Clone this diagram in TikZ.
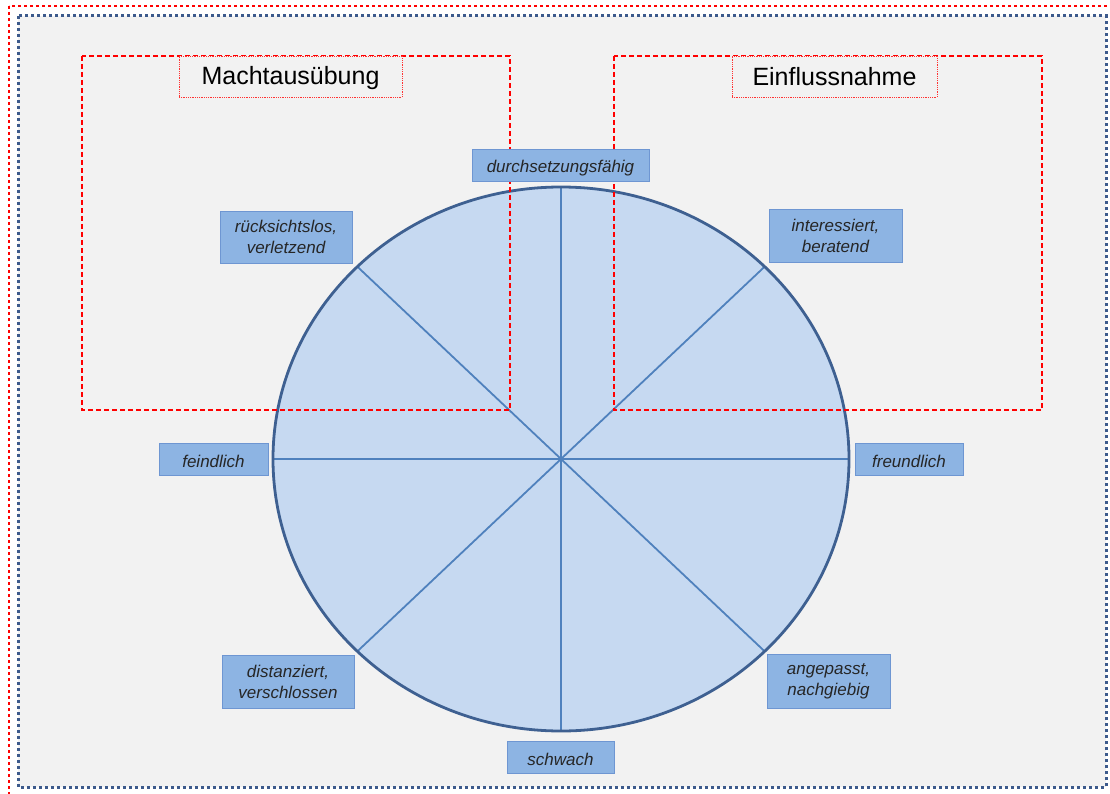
\documentclass[tikz,border=0pt]{standalone}
\usepackage{fontspec}
\setmainfont{Liberation Sans}
\usetikzlibrary{calc}
% fixed-size struts so that single-line texts sit on a common baseline
\newcommand{\tagstrut}{\rule[-3pt]{0pt}{22pt}}
\newcommand{\titlestrut}{\rule[-4pt]{0pt}{26pt}}
\begin{document}
\begin{tikzpicture}[x=1pt,y=-1pt,
  tag/.style={draw=boxline,fill=boxfill,line width=0.9pt,font=\itshape\fontsize{17}{21}\selectfont,
    text=black!85,inner sep=0pt},
  tagtwo/.style={tag,align=center},
  zone/.style={draw=red,line width=1.8pt,dash pattern=on 5pt off 3pt},
  titlebox/.style={draw=red!80,densely dotted,line width=0.8pt,fill=bgray,inner sep=0pt,
    font=\fontsize{25}{29}\selectfont},
  spoke/.style={draw=spokeblue,line width=1.8pt}]
\definecolor{bgray}{RGB}{242,242,242}
\definecolor{boxfill}{RGB}{141,180,227}
\definecolor{boxline}{RGB}{110,150,210}
\definecolor{discfill}{RGB}{198,217,241}
\definecolor{discline}{RGB}{62,96,145}
\definecolor{spokeblue}{RGB}{79,129,189}
\definecolor{frameblue}{RGB}{60,90,140}
\useasboundingbox (0,0) rectangle (1110,794);
\clip (0,0) rectangle (1110,794);
% frames
\fill[white] (0,0) rectangle (1110,794);
\draw[red,line width=2.5pt,dash pattern=on 3pt off 3pt] (9,6) rectangle (1130,820);
\fill[bgray] (18,16) rectangle (1106,787);
\draw[frameblue,line width=3pt,dash pattern=on 3pt off 3pt] (18,16) rectangle (1106,787);
% disc with eight spokes
\coordinate (c) at (561,459);
\fill[discfill] (c) ellipse [x radius=288,y radius=272];
\foreach \a in {0,45,...,315}
  \draw[spoke] (c) -- ($(c)+({288*cos(\a)},{272*sin(\a)})$);
\draw[discline,line width=2.8pt] (c) ellipse [x radius=288,y radius=272];
% zones
\draw[zone] (82,56) rectangle (510,410);
\draw[zone] (614,56) rectangle (1042,410);
\node[titlebox,minimum width=223,minimum height=41] (macht) at (290.5,76.5) {\titlestrut Machtausübung};
\node[titlebox,minimum width=205,minimum height=41] (einfl) at (834.5,76.5) {\titlestrut Einflussnahme};
% labels
\node[tag,minimum width=177,minimum height=32] (n) at (560.5,165) {\tagstrut durchsetzungsfähig};
\node[tagtwo,minimum width=132,minimum height=52] (nw) at (286,237) {rücksichtslos,\\verletzend};
\node[tagtwo,minimum width=133,minimum height=53] (ne) at (835.5,235.5) {interessiert,\\beratend};
\node[tag,minimum width=109,minimum height=32] (w) at (213.5,459) {\tagstrut feindlich};
\node[tag,minimum width=108,minimum height=32] (e) at (909,459) {\tagstrut freundlich};
\node[tagtwo,minimum width=132,minimum height=53] (sw) at (288,681.5) {distanziert,\\verschlossen};
\node[tagtwo,minimum width=123,minimum height=54] (se) at (828.5,681) {angepasst,\\nachgiebig};
\node[tag,minimum width=107,minimum height=32] (s) at (560.5,757) {\tagstrut schwach};
\end{tikzpicture}
\end{document}
